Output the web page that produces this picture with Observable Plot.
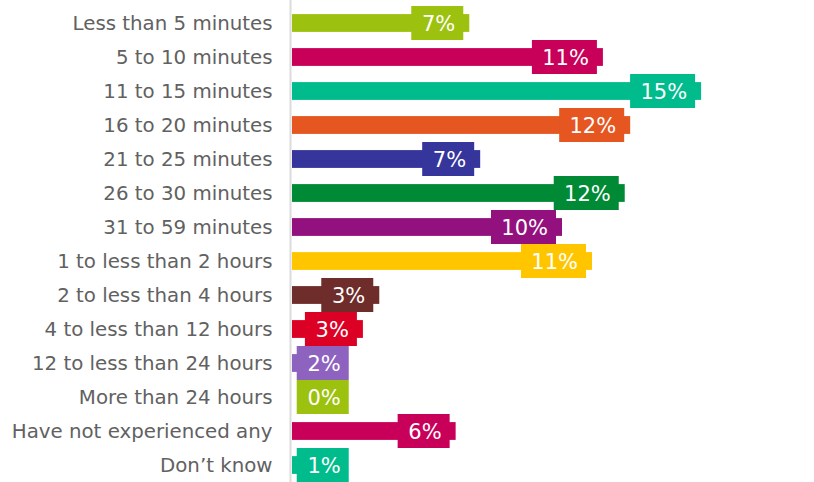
<!DOCTYPE html>
<html><head><meta charset="utf-8">
<script src="https://cdn.jsdelivr.net/npm/d3@7"></script>
<script src="https://cdn.jsdelivr.net/npm/@observablehq/plot@0.6"></script>
<style>body{margin:0;background:#fff}</style>
</head><body><div id="chart"></div>
<script>
const categories = [
  "Less than 5 minutes", "5 to 10 minutes", "11 to 15 minutes", "16 to 20 minutes",
  "21 to 25 minutes", "26 to 30 minutes", "31 to 59 minutes", "1 to less than 2 hours",
  "2 to less than 4 hours", "4 to less than 12 hours", "12 to less than 24 hours",
  "More than 24 hours", "Have not experienced any", "Don\u2019t know"
];
const values = [6.5, 11.4, 15.0, 12.4, 6.9, 12.2, 9.9, 11.0, 3.2, 2.6, 2.0, 0, 6.0, 1.0];
const labels = ["7%", "11%", "15%", "12%", "7%", "12%", "10%", "11%", "3%", "3%", "2%", "0%", "6%", "1%"];
const colors = ["#9CC20F", "#C8005A", "#00BC8D", "#E55621", "#35359B", "#008A35", "#93117E",
  "#FFC600", "#6E2D2A", "#DC0025", "#8E62BF", "#9CC20F", "#C8005A", "#00BC8D"];
const minLabelAnchor = 2.3;

const data = categories.map((c, i) => ({
  cat: c, value: values[i], label: labels[i], color: colors[i],
  anchor: Math.max(values[i], minLabelAnchor)
}));
const shortLabels = data.filter(d => d.label.length <= 2);
const longLabels = data.filter(d => d.label.length > 2);

const chart = Plot.plot({
  width: 814, height: 482,
  marginLeft: 292, marginRight: 0, marginTop: 0, marginBottom: 0,
  style: {fontFamily: "DejaVu Sans", background: "#fff"},
  x: {domain: [0, 19.14], axis: null},
  y: {domain: categories, range: [4.9, 483.7], padding: 0, axis: null},
  color: {type: "identity"},
  marks: [
    Plot.ruleX([0], {stroke: "#dcdcdc", strokeWidth: 2, dx: -2}),
    Plot.barX(data, {y: "cat", x: "value", fill: "color", insetTop: 8.1, insetBottom: 8.1}),
    Plot.barX(shortLabels, {y: "cat", x1: "anchor", x2: "anchor", fill: "color", insetLeft: -58, insetRight: 6}),
    Plot.barX(longLabels, {y: "cat", x1: "anchor", x2: "anchor", fill: "color", insetLeft: -71, insetRight: 6}),
    Plot.text(data, {y: "cat", x: "anchor", text: "label", textAnchor: "end", dx: -14.5, dy: 1, fill: "white", fontSize: 21}),
    Plot.text(data, {y: "cat", x: 0, text: "cat", textAnchor: "end", dx: -20, fill: "#616161", fontSize: 19.8})
  ]
});
document.getElementById("chart").appendChild(chart);
</script>
</body></html>
